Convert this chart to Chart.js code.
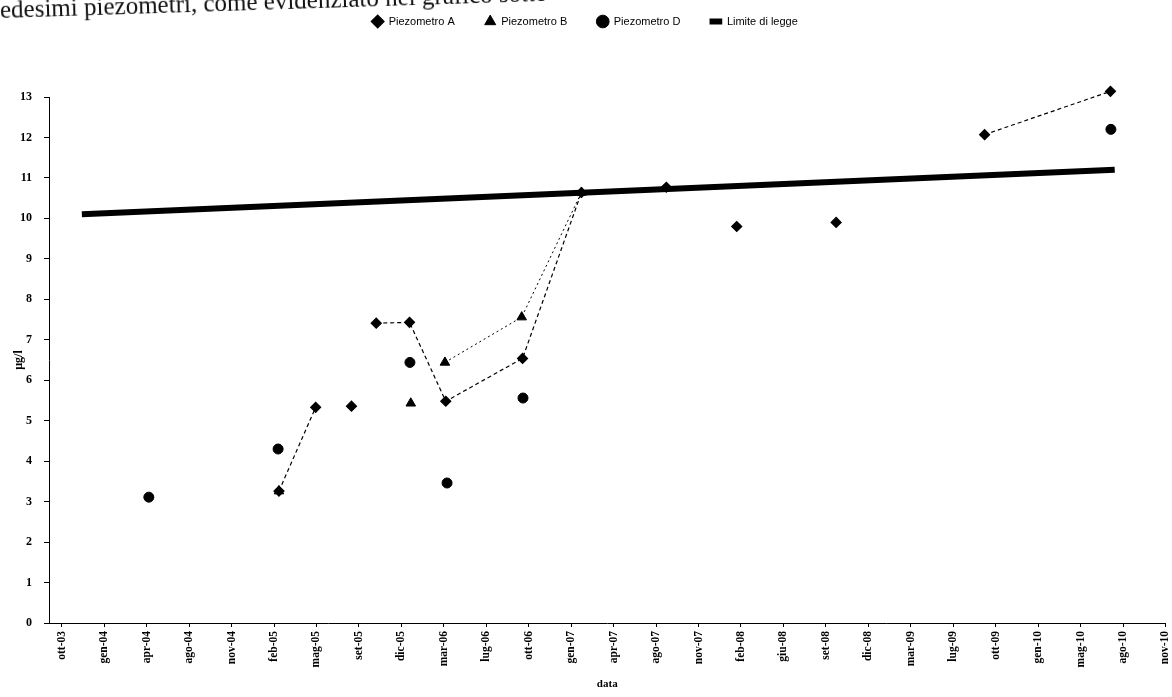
<!DOCTYPE html>
<html>
<head>
<meta charset="utf-8">
<script src="https://cdn.jsdelivr.net/npm/chart.js@4.4.1/dist/chart.umd.min.js"></script>
<style>
    html, body { margin: 0; background: #fff; overflow: hidden; }
    #wrap { position: relative; width: 1172px; height: 697px; }
    #pageText {
        position: absolute; left: 0; top: -4px;
        font: 25px 'Liberation Serif', serif; color: #111;
        white-space: nowrap; transform: rotate(-1.8deg); transform-origin: 0 50%;
    }
</style>
</head>
<body>
<div id="wrap">
    <div id="pageText">edesimi piezometri, come evidenziato nel grafico sotto</div>
    <canvas id="chart" width="1172" height="697"></canvas>
</div>
<script>
    // asse delle date: etichette ogni ~100 giorni a partire da ott-03
    const AXIS_START = '2003-10-01';
    const TICK_DAYS = 99.5;
    const tickLabels = ['ott-03', 'gen-04', 'apr-04', 'ago-04', 'nov-04', 'feb-05', 'mag-05', 'set-05',
        'dic-05', 'mar-06', 'lug-06', 'ott-06', 'gen-07', 'apr-07', 'ago-07', 'nov-07', 'feb-08',
        'giu-08', 'set-08', 'dic-08', 'mar-09', 'lug-09', 'ott-09', 'gen-10', 'mag-10', 'ago-10', 'nov-10'];

    // Piezometro A (null = interruzione della linea)
    const datesA = ['2005-02-21', '2005-05-18', null, '2005-08-10', null, '2005-10-07', '2005-12-24',
        '2006-03-19', '2006-09-15', '2007-01-31', '2007-08-18', null, '2008-01-30', null,
        '2008-09-19', null, '2009-09-02', '2010-06-24'];
    const valuesA = [3.26, 5.33, null, 5.36, null, 7.41, 7.43,
        5.48, 6.54, 10.64, 10.77, null, 9.8, null,
        9.9, null, 12.07, 13.14];

    // Piezometro B
    const datesB = ['2005-02-21', null, '2005-12-27', null, '2006-03-17', '2006-09-13', '2007-01-31'];
    const valuesB = [3.26, null, 5.43, null, 6.44, 7.56, 10.64];

    // Piezometro D
    const datesD = ['2004-04-22', '2005-02-19', '2005-12-25', '2006-03-22', '2006-09-16', '2010-06-25'];
    const valuesD = [3.11, 4.3, 6.44, 3.46, 5.56, 12.2];

    // Limite di legge (come appare nella scansione)
    const datesLimit = ['2003-11-17', '2010-07-04'];
    const valuesLimit = [10.1, 11.2];

    function dayOf(s) {
        const a = s.split('-').map(Number);
        const b = AXIS_START.split('-').map(Number);
        return (Date.UTC(a[0], a[1] - 1, a[2]) - Date.UTC(b[0], b[1] - 1, b[2])) / 86400000;
    }

    function toPoints(dates, values) {
        let last = 0;
        return values.map((v, i) => {
            if (dates[i] !== null) last = dayOf(dates[i]);
            return { x: last, y: v };
        });
    }

    //spazio fisso per la legenda sopra il grafico, legenda spostata in alto
    const legendSpace = {
        id: 'legendSpace',
        beforeInit(chart) {
            if (!chart.legend) return;
            const fit = chart.legend.fit;
            chart.legend.fit = function () {
                fit.call(this);
                this.height = 97;
            };
            const draw = chart.legend.draw;
            chart.legend.draw = function () {
                const ctx = this.ctx;
                ctx.save();
                ctx.translate(0, -14);
                draw.call(this);
                ctx.restore();
            };
        }
    };

    const serifBold = { family: "'Liberation Serif', serif", weight: 'bold' };

    new Chart(document.getElementById('chart'), {
        type: 'line',
        data: {
            datasets: [{
                label: 'Piezometro A',
                data: toPoints(datesA, valuesA),
                borderColor: '#000',
                backgroundColor: '#000',
                borderWidth: 1.2,
                borderDash: [4, 3],
                pointStyle: 'rectRot',
                pointRadius: 5,
                clip: false,
                order: 0
            }, {
                label: 'Piezometro B',
                data: toPoints(datesB, valuesB),
                borderColor: '#000',
                backgroundColor: '#000',
                borderWidth: 1,
                borderDash: [2, 3],
                pointStyle: 'triangle',
                pointRadius: 5.5,
                clip: false,
                order: 0
            }, {
                label: 'Piezometro D',
                data: toPoints(datesD, valuesD),
                borderColor: '#000',
                backgroundColor: '#000',
                showLine: false,
                pointStyle: 'circle',
                pointRadius: 5,
                clip: false,
                order: 0
            }, {
                label: 'Limite di legge',
                data: toPoints(datesLimit, valuesLimit),
                borderColor: '#000',
                backgroundColor: '#000',
                borderWidth: 6,
                pointRadius: 0,
                pointStyle: 'line',
                order: 1
            }]
        },
        options: {
            responsive: false,
            animation: false,
            spanGaps: false,
            layout: { padding: { left: 0, right: 2, top: 0, bottom: 0 } },
            plugins: {
                tooltip: { enabled: false },
                legend: {
                    position: 'top',
                    labels: {
                        usePointStyle: true,
                        boxHeight: 9,
                        padding: 30,
                        color: '#000',
                        font: { family: "'Liberation Sans', sans-serif", size: 11 }
                    }
                }
            },
            scales: {
                x: {
                    type: 'linear',
                    min: -30,
                    max: TICK_DAYS * (tickLabels.length - 1),
                    afterBuildTicks: (scale) => {
                        scale.ticks = tickLabels.map((_, i) => ({ value: i * TICK_DAYS }));
                    },
                    afterFit: (scale) => {
                        scale.height = 74;
                        scale.paddingRight = 6;
                        scale.paddingLeft = 0;
                    },
                    ticks: {
                        autoSkip: false,
                        maxRotation: 90,
                        minRotation: 90,
                        padding: 4,
                        color: '#000',
                        font: Object.assign({ size: 11.5 }, serifBold),
                        callback: (v, i) => tickLabels[i]
                    },
                    grid: { drawOnChartArea: false, tickLength: 4, color: '#000' },
                    border: { color: '#000', width: 1 },
                    title: {
                        display: true, text: 'data', color: '#000',
                        font: Object.assign({ size: 11 }, serifBold),
                        padding: { top: 0, bottom: 6 }
                    }
                },
                y: {
                    min: 0,
                    max: 13,
                    afterFit: (scale) => { scale.width = 49; },
                    ticks: {
                        stepSize: 1,
                        padding: 12,
                        color: '#000',
                        font: Object.assign({ size: 12 }, serifBold)
                    },
                    grid: { drawOnChartArea: false, tickLength: 5, color: '#000' },
                    border: { color: '#000', width: 1 },
                    title: {
                        display: true, text: 'µg/l', color: '#000',
                        font: Object.assign({ size: 12 }, serifBold),
                        padding: { top: 12, bottom: 0 }
                    }
                }
            }
        },
        plugins: [legendSpace]
    });
</script>
</body>
</html>
